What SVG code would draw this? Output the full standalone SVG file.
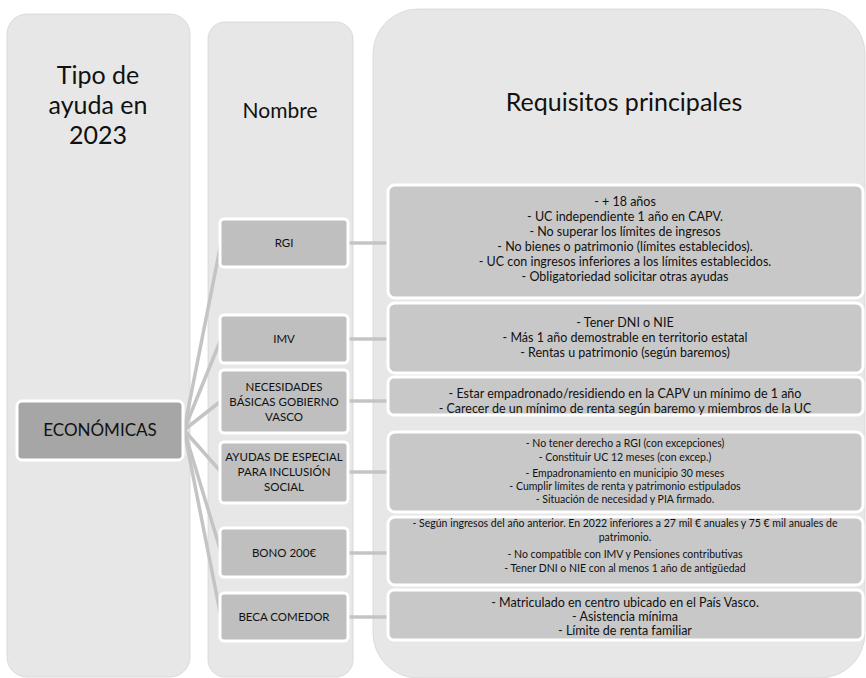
<svg xmlns="http://www.w3.org/2000/svg" width="866" height="678" viewBox="0 0 866 678">
<style>
.col{fill:#e7e7e7;stroke:#d6d6d6;stroke-width:0.8}
.name{fill:#bfbfbf;stroke:#ffffff;stroke-width:3}
.main{fill:#a6a6a6;stroke:#ffffff;stroke-width:3}
.req{fill:#c8c8c8;stroke:#ffffff;stroke-width:3}
.conn line{stroke:#c4c4c4;stroke-width:3.5}
text{font-family:Lato,"Liberation Sans",sans-serif;fill:#111;text-anchor:middle}
.h{font-size:25px}
.h2{font-size:21px}
.n{font-size:11.5px}
.r{font-size:12.5px}
.rs{font-size:10.5px}
</style>
<rect width="866" height="678" fill="#ffffff"/>
<g id="col-tipo"><rect class="col" x="7" y="14" width="183" height="663" rx="20"/>
<text class="h" x="98" y="84">Tipo de</text><text class="h" x="98" y="114">ayuda en</text><text class="h" x="98" y="144">2023</text></g>
<g id="col-nombre"><rect class="col" x="208" y="22" width="145" height="655" rx="17"/>
<text class="h2" x="280" y="118">Nombre</text></g>
<g id="col-req"><rect class="col" x="373" y="9" width="492" height="669" rx="45"/>
<text class="h" x="624" y="111">Requisitos principales</text></g>
<g id="connectors" class="conn">
<line x1="184" y1="430" x2="221" y2="243"/>
<line x1="184" y1="430" x2="221" y2="339"/>
<line x1="184" y1="430" x2="221" y2="401"/>
<line x1="184" y1="430" x2="221" y2="472"/>
<line x1="184" y1="430" x2="221" y2="552"/>
<line x1="184" y1="430" x2="221" y2="617"/>
<line x1="348" y1="243" x2="388" y2="243"/>
<line x1="348" y1="339" x2="388" y2="339"/>
<line x1="348" y1="401" x2="388" y2="401"/>
<line x1="348" y1="472" x2="388" y2="472"/>
<line x1="348" y1="553" x2="388" y2="553"/>
<line x1="348" y1="617" x2="388" y2="617"/>
</g>
<g id="economicas"><rect class="main" x="17" y="401" width="166" height="59" rx="5"/><text x="100" y="436" font-size="17">ECONÓMICAS</text></g>
<g id="rgi"><rect class="name" x="220" y="219" width="128" height="48" rx="4"/><text class="n" x="284" y="247">RGI</text></g>
<g id="imv"><rect class="name" x="220" y="315" width="128" height="48" rx="4"/><text class="n" x="284" y="343">IMV</text></g>
<g id="necesidades"><rect class="name" x="220" y="370" width="128" height="63" rx="4"/><text class="n" x="284" y="391">NECESIDADES</text><text class="n" x="284" y="406">BÁSICAS GOBIERNO</text><text class="n" x="284" y="421">VASCO</text></g>
<g id="ayudas"><rect class="name" x="220" y="442" width="128" height="61" rx="4"/><text class="n" x="284" y="461">AYUDAS DE ESPECIAL</text><text class="n" x="284" y="476">PARA INCLUSIÓN</text><text class="n" x="284" y="491">SOCIAL</text></g>
<g id="bono"><rect class="name" x="220" y="528" width="128" height="49" rx="4"/><text class="n" x="284" y="557">BONO 200€</text></g>
<g id="beca"><rect class="name" x="220" y="593" width="128" height="48" rx="4"/><text class="n" x="284" y="621">BECA COMEDOR</text></g>
<g id="req-rgi"><rect class="req" x="388" y="185" width="475" height="113" rx="7"/>
<text class="r" x="625" y="206">- + 18 años</text>
<text class="r" x="625" y="221">- UC independiente 1 año en CAPV.</text>
<text class="r" x="625" y="236">- No superar los límites de ingresos</text>
<text class="r" x="625" y="251">- No bienes o patrimonio (límites establecidos).</text>
<text class="r" x="625" y="266">- UC con ingresos inferiores a los límites establecidos.</text>
<text class="r" x="625" y="281">- Obligatoriedad solicitar otras ayudas</text></g>
<g id="req-imv"><rect class="req" x="388" y="303" width="475" height="70" rx="7"/>
<text class="r" x="625" y="327">- Tener DNI o NIE</text>
<text class="r" x="625" y="342">- Más 1 año demostrable en territorio estatal</text>
<text class="r" x="625" y="357">- Rentas u patrimonio (según baremos)</text></g>
<g id="req-nec"><rect class="req" x="388" y="377" width="475" height="38" rx="6"/>
<text class="r" x="625" y="398">- Estar empadronado/residiendo en la CAPV un mínimo de 1 año</text>
<text class="r" x="625" y="413">- Carecer de un mínimo de renta según baremo y miembros de la UC</text></g>
<g id="req-ayudas"><rect class="req" x="388" y="432" width="475" height="80" rx="7"/>
<text class="rs" x="625" y="447">- No tener derecho a RGI (con excepciones)</text>
<text class="rs" x="625" y="461">-  Constituir UC 12 meses (con excep.)</text>
<text class="rs" x="625" y="477">- Empadronamiento en municipio 30 meses</text>
<text class="rs" x="625" y="490">- Cumplir límites de renta y patrimonio estipulados</text>
<text class="rs" x="625" y="503">- Situación de necesidad y PIA firmado.</text></g>
<g id="req-bono"><rect class="req" x="388" y="517" width="475" height="68" rx="7"/>
<text class="rs" x="625" y="527">- Según ingresos del año anterior. En 2022 inferiores a 27 mil € anuales y 75 € mil anuales de</text>
<text class="rs" x="625" y="541">patrimonio.</text>
<text class="rs" x="625" y="558">- No compatible con IMV y Pensiones contributivas</text>
<text class="rs" x="625" y="572">- Tener DNI o NIE con al menos 1 año de antigüedad</text></g>
<g id="req-beca"><rect class="req" x="388" y="590" width="475" height="50" rx="6"/>
<text class="r" x="625" y="607">- Matriculado en centro ubicado en el País Vasco.</text>
<text class="r" x="625" y="621">- Asistencia mínima</text>
<text class="r" x="625" y="635">- Límite de renta familiar</text></g>
</svg>
